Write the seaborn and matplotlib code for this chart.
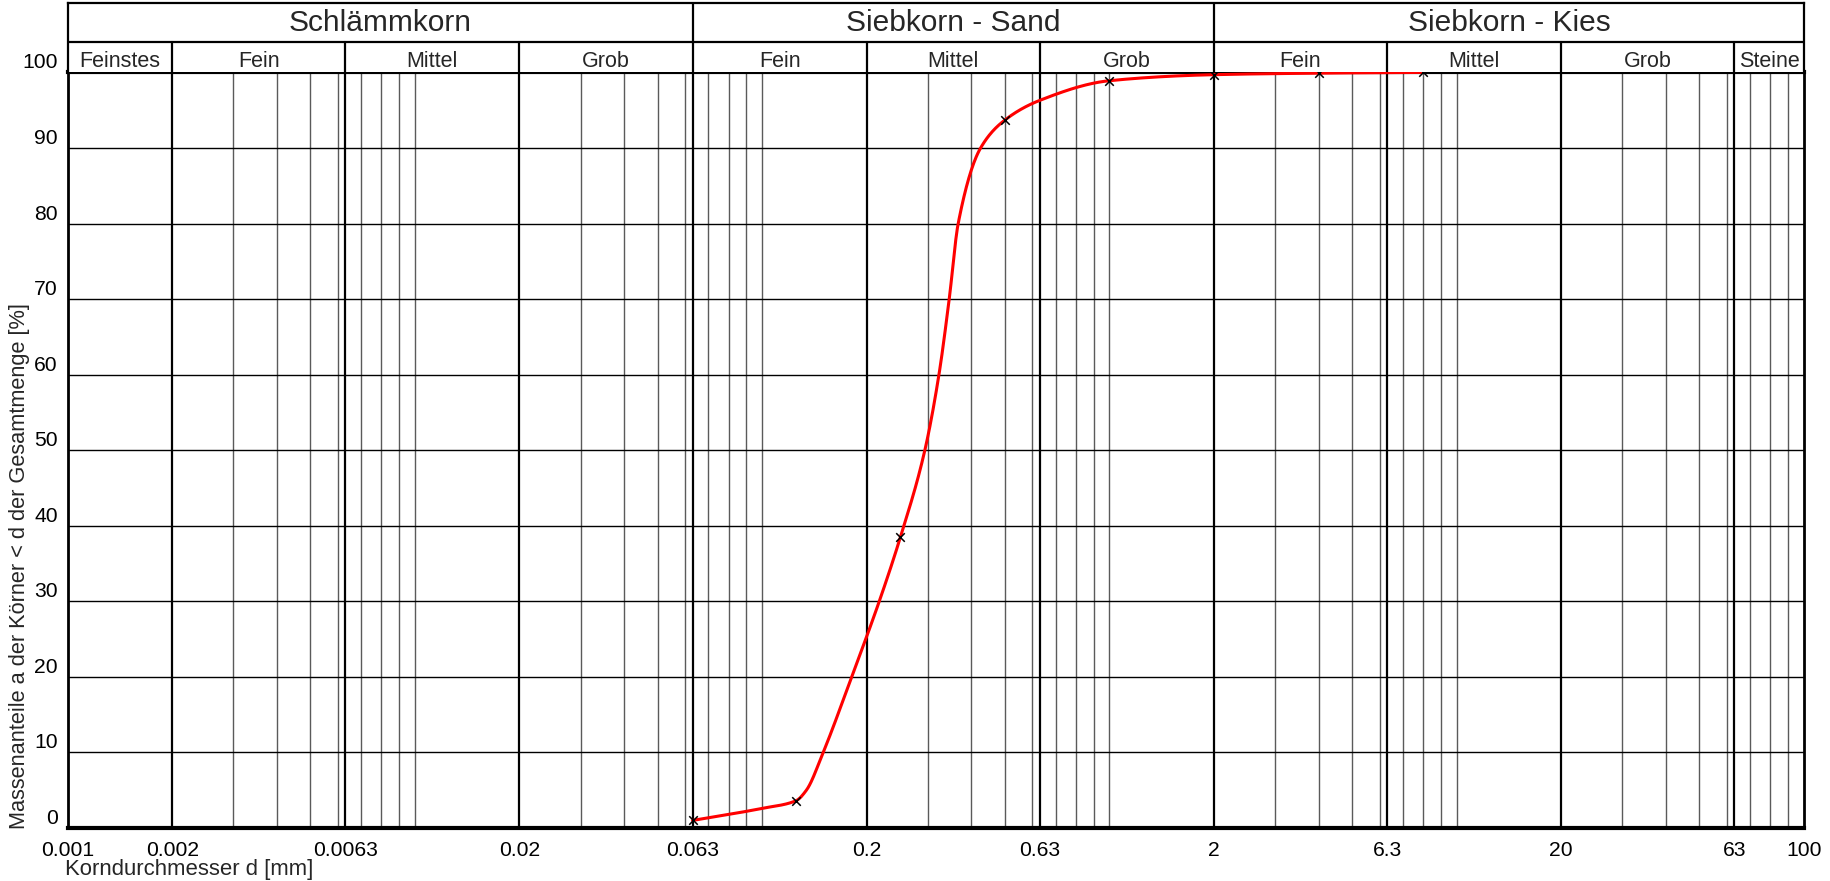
import numpy as np
import pandas as pd
import matplotlib
matplotlib.use("Agg")
import matplotlib.pyplot as plt
import seaborn as sns
from matplotlib.transforms import ScaledTranslation

# Sieve analysis: sieve opening [mm] and cumulative passing [%]
sieve_mm = [0.063, 0.125, 0.25, 0.5, 1.0, 2.0, 4.0, 8.0]
passing_pct = [1.0, 3.6, 38.5, 93.7, 98.9, 99.7, 99.9, 100.0]

# Grading curve (grain size [mm] and passing [%])
curve_mm = [0.063, 0.1, 0.125, 0.134, 0.1498, 0.181, 0.2173, 0.25, 0.294,
            0.3228, 0.3455, 0.3667, 0.4255, 0.5, 0.63, 1.0,
            2.0, 4.0, 8.0]
curve_pct = [1.0, 2.6, 3.6, 5.0, 10.0, 20.0, 30.0, 38.5, 50.0,
             60.0, 70.0, 80.0, 90.0, 93.7, 96.3, 98.9,
             99.7, 99.9, 100.0]

# Axis ticks
x_ticks = [0.001, 0.002, 0.0063, 0.02, 0.063, 0.2, 0.63, 2, 6.3, 20, 63, 100]
x_tick_labels = ["0.001", "0.002", "0.0063", "0.02", "0.063", "0.2", "0.63",
                 "2", "6.3", "20", "63", "100"]
y_ticks = [0, 10, 20, 30, 40, 50, 60, 70, 80, 90, 100]
y_tick_labels = ["0", "10", "20", "30", "40", "50", "60", "70", "80", "90", "100"]

# Soil classification header
main_groups = ["Schlämmkorn", "Siebkorn - Sand", "Siebkorn - Kies"]
main_bounds = [0.001, 0.063, 2, 100]
sub_groups = ["Feinstes", "Fein", "Mittel", "Grob", "Fein", "Mittel", "Grob",
              "Fein", "Mittel", "Grob", "Steine"]
sub_bounds = [0.001, 0.002, 0.0063, 0.02, 0.063, 0.2, 0.63, 2, 6.3, 20, 63, 100]

x_label = "Korndurchmesser d [mm]"
y_label = "Massenanteile a der Körner < d der Gesamtmenge [%]"


def smooth_monotone(xk, yk, xs):
    """Monotone cubic Hermite (PCHIP) line through (xk, yk), evaluated at xs."""
    xk = np.asarray(xk, float)
    yk = np.asarray(yk, float)
    h = np.diff(xk)
    d = np.diff(yk) / h
    m = np.zeros_like(yk)
    for i in range(1, len(xk) - 1):
        if d[i - 1] * d[i] > 0:
            w1 = 2 * h[i] + h[i - 1]
            w2 = h[i] + 2 * h[i - 1]
            m[i] = (w1 + w2) / (w1 / d[i - 1] + w2 / d[i])
    m[0] = d[0]
    m[-1] = d[-1]
    idx = np.clip(np.searchsorted(xk, xs) - 1, 0, len(h) - 1)
    t = (xs - xk[idx]) / h[idx]
    h00 = 2 * t**3 - 3 * t**2 + 1
    h10 = t**3 - 2 * t**2 + t
    h01 = -2 * t**3 + 3 * t**2
    h11 = t**3 - t**2
    return (h00 * yk[idx] + h10 * h[idx] * m[idx]
            + h01 * yk[idx + 1] + h11 * h[idx] * m[idx + 1])


sns.set_theme(style="white")
plt.rcParams["font.family"] = ["Liberation Sans", "DejaVu Sans"]

W, H = 1831, 881
fig = plt.figure(figsize=(W / 100, H / 100), dpi=100)

left_px, right_px = 67.7, 1804
top_px, bottom_px = 72.4, 828
head_top_px = 3.4
L = left_px / W
AW = (right_px - left_px) / W
B = 1 - bottom_px / H
AH = (bottom_px - top_px) / H

ax = fig.add_axes([L, B, AW, AH])
hax = fig.add_axes([L, 1 - top_px / H, AW, (top_px - head_top_px) / H])

for a in (ax, hax):
    a.set_xscale("log")
    a.set_xlim(0.001, 100)
    a.minorticks_off()
    a.set_facecolor("white")

ax.set_ylim(0, 100)

# Fine grid lines inside each decade
majors = set(np.round(sub_bounds, 6))
fine = []
for k in range(-3, 2):
    for mant in [3, 4, 5, 6, 7, 8, 9, 10]:
        v = round(mant * 10.0**k, 6)
        if v not in majors and v < 100:
            fine.append(v)
for v in fine:
    ax.axvline(v, color="#5a5a5a", lw=1.0, zorder=1)
for v in sub_bounds[1:-1]:
    ax.axvline(v, color="black", lw=1.6, zorder=1.2)
for v in y_ticks[1:-1]:
    ax.axhline(v, color="black", lw=1.0, zorder=1.1)

# Grading curve and measured points
xs = np.logspace(np.log10(curve_mm[0]), np.log10(curve_mm[-1]), 900)
curve = pd.DataFrame({"d": xs,
                      "a": smooth_monotone(np.log10(curve_mm), curve_pct,
                                           np.log10(xs))})
pts = pd.DataFrame({"d": sieve_mm, "a": passing_pct})
sns.lineplot(data=curve, x="d", y="a", ax=ax, color="#ff0000", lw=2.2,
             zorder=3, sort=False)
sns.scatterplot(data=pts, x="d", y="a", ax=ax, marker="x", color="black",
                s=38, linewidth=1.1, zorder=4)
ax.set_xlabel("")
ax.set_ylabel("")

# Frame
for side, sp in ax.spines.items():
    sp.set_visible(True)
    sp.set_color("black")
ax.spines["bottom"].set_linewidth(3.0)
ax.spines["top"].set_linewidth(3.0)
ax.spines["left"].set_linewidth(2.0)
ax.spines["right"].set_linewidth(2.0)

ax.set_xticks(x_ticks)
ax.set_xticklabels(x_tick_labels, fontsize=15.2)
ax.set_yticks(y_ticks)
ax.set_yticklabels(y_tick_labels, fontsize=15.2, va="baseline")
ax.tick_params(axis="both", length=0, colors="black")
ax.tick_params(axis="x", pad=9)
ax.tick_params(axis="y", pad=7)
shift = ScaledTranslation(0, 4 / 100, fig.dpi_scale_trans)
for lab in ax.get_yticklabels():
    lab.set_transform(lab.get_transform() + shift)

# Header table
hax.set_ylim(0, 1)
hax.set_xticks([])
hax.set_yticks([])
for sp in hax.spines.values():
    sp.set_color("black")
    sp.set_linewidth(1.6)
hax.spines["bottom"].set_visible(False)
split = 0.445
hax.axhline(split, color="black", lw=1.6)
for v in main_bounds[1:-1]:
    hax.plot([v, v], [split, 1], color="black", lw=1.6)
for v in sub_bounds[1:-1]:
    hax.plot([v, v], [0, split], color="black", lw=1.6)
for i, name in enumerate(main_groups):
    xc = np.sqrt(main_bounds[i] * main_bounds[i + 1])
    hax.text(xc, 0.71, name, ha="center", va="center", fontsize=21.5)
for i, name in enumerate(sub_groups):
    xc = np.sqrt(sub_bounds[i] * sub_bounds[i + 1])
    hax.text(xc, 0.165, name, ha="center", va="center", fontsize=15.5)

fig.text(65 / W, 1 - 870 / H, x_label, ha="left", va="center", fontsize=15.9)
fig.text(20 / W, 1 - 829 / H, y_label, ha="center", va="bottom",
         rotation=90, fontsize=15.7)

fig.savefig("out.png", dpi=100, facecolor="white")
